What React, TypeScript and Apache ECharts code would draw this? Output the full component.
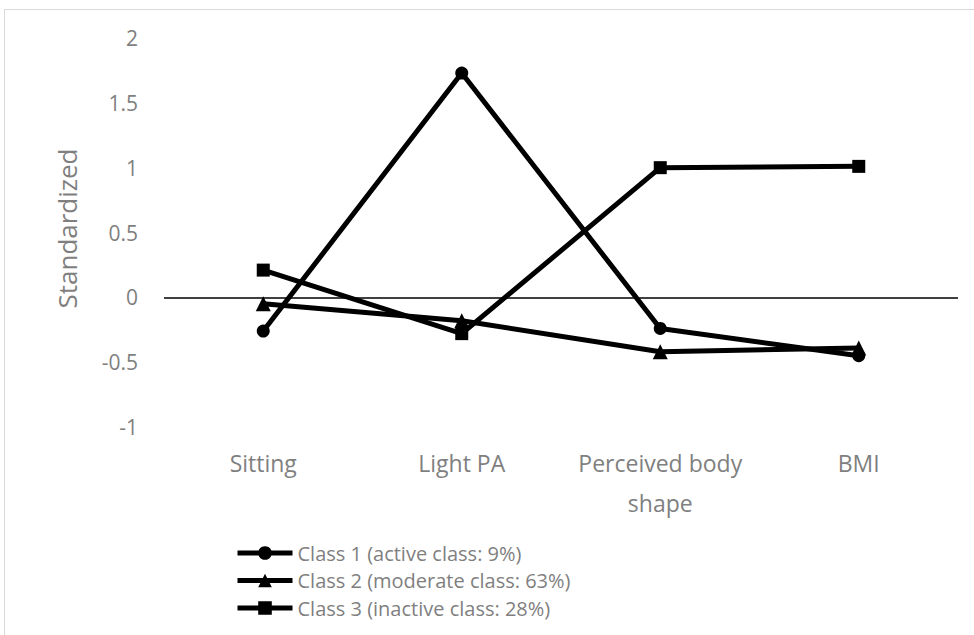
import React, { useEffect, useRef } from "react";
import * as echarts from "echarts";

const categories = ["Sitting", "Light PA", "Perceived body\nshape", "BMI"];
const class1 = [-0.26, 1.73, -0.24, -0.45];
const class2 = [-0.05, -0.18, -0.42, -0.39];
const class3 = [0.21, -0.28, 1.0, 1.01];
const seriesNames = [
  "Class 1 (active class: 9%)",
  "Class 2 (moderate class: 63%)",
  "Class 3 (inactive class: 28%)",
];
const symbols = ["circle", "triangle", "rect"];

const FONT = "'Open Sans', 'Noto Sans', sans-serif";
const GRAY = "#7f7f7f";

export default function App() {
  const ref = useRef<HTMLDivElement>(null);
  useEffect(() => {
    const chart = echarts.init(ref.current!, null, { renderer: "svg" });
    const data = [class1, class2, class3];
    chart.setOption({
      animation: false,
      backgroundColor: "#ffffff",
      textStyle: { fontFamily: FONT },
      graphic: [
        {
          type: "rect",
          shape: { x: 4.5, y: 9.5, width: 1000, height: 700 },
          style: { fill: "none", stroke: "#d9d9d9", lineWidth: 1 },
          silent: true,
        },
      ],
      grid: { left: 164, right: 16, top: 38, bottom: 208, containLabel: false },
      legend: {
        orient: "vertical",
        left: 235,
        top: 543,
        padding: 0,
        itemWidth: 55,
        itemHeight: 17,
        itemGap: 7.5,
        data: seriesNames,
        lineStyle: { width: 5 },
        textStyle: { color: GRAY, fontSize: 20, fontFamily: FONT, lineHeight: 18 },
      },
      xAxis: {
        type: "category",
        data: categories,
        boundaryGap: true,
        axisLine: { show: false },
        axisTick: { show: false },
        splitLine: { show: false },
        axisLabel: {
          color: GRAY,
          fontSize: 23,
          fontFamily: FONT,
          margin: 16,
          lineHeight: 40,
          interval: 0,
          verticalAlign: "top",
        },
      },
      yAxis: {
        type: "value",
        min: -1,
        max: 2,
        interval: 0.5,
        axisLine: { show: false },
        axisTick: { show: false },
        splitLine: { show: false },
        axisLabel: { color: GRAY, fontSize: 21, fontFamily: FONT, margin: 26 },
        name: "Standardized",
        nameLocation: "middle",
        nameGap: 84,
        nameTextStyle: { color: GRAY, fontSize: 26, fontFamily: FONT, padding: [0, 0, 0, 8] },
      },
      series: data.map((d, i) => ({
        name: seriesNames[i],
        type: "line",
        data: d,
        symbol: symbols[i],
        symbolSize: i === 1 ? 15 : 13,
        showSymbol: true,
        lineStyle: { color: "#000000", width: 5 },
        itemStyle: { color: "#000000" },
        z: 3,
        markLine:
          i === 0
            ? {
                silent: true,
                symbol: ["none", "none"],
                label: { show: false },
                lineStyle: { color: "#000000", width: 1.5, type: "solid" },
                data: [{ yAxis: 0 }],
                z: 1,
              }
            : undefined,
      })),
    });
    return () => chart.dispose();
  }, []);
  return (
    <div
      ref={ref}
      style={{ position: "absolute", left: 0, top: 0, width: 974, height: 635 }}
    />
  );
}
